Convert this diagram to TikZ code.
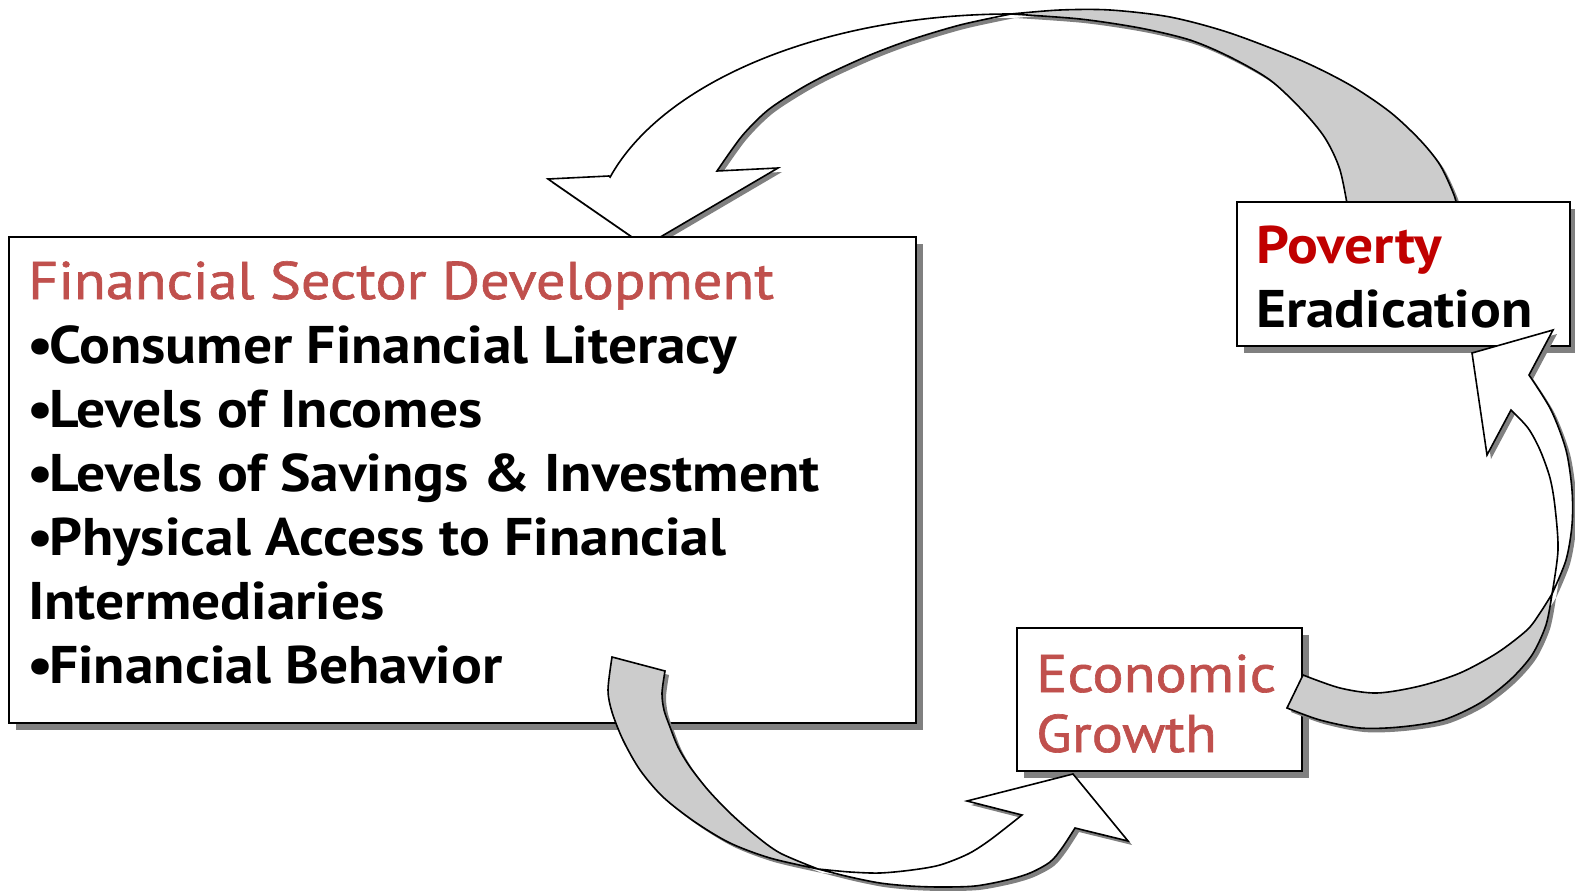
\documentclass[tikz,border=0pt]{standalone}
\usepackage{fontspec}
\setmainfont{PT Sans}[FakeStretch=1.085]
\newfontfamily\medfont{PT Sans}[FakeStretch=1.10, FakeBold=1.2]
\usetikzlibrary{shadows}
\definecolor{titlered}{HTML}{C0504D}
\definecolor{povred}{HTML}{C00000}
\definecolor{backgray}{HTML}{CCCCCC}
\definecolor{shadowgray}{HTML}{808080}

\tikzset{
  boxstyle/.style={draw=black, line width=2pt, fill=white, inner sep=0pt,
    general shadow={fill=shadowgray, shadow xshift=7pt, shadow yshift=-7pt}},
  txt/.style={inner sep=0pt, anchor=base west, font=\medfont\fontsize{53}{64}\selectfont},
  btxt/.style={inner sep=0pt, anchor=base west, font=\fontsize{53}{64}\selectfont\bfseries},
  band/.style={draw=black, line width=1.6pt, line join=miter, fill=white},
  backband/.style={draw=black, line width=1.6pt, line join=miter, fill=backgray},
  arrowshadow/.style={fill=shadowgray, shift={(4,4)}},
}
\newcommand\bul{•\kern-4pt}

% top arrow: Poverty -> Financial
\newcommand\topfront[1]{\path[#1] (609,176) -- (548,179) -- (645,246) -- (778,168) -- (717,171)
  -- plot[smooth] coordinates {(717,171) (742,136) (768,110) (800,89) (828,74) (870,55) (910,40) (960,25) (1011,14)}
  -- (1011,14) arc[start angle=270, end angle=196.9, x radius=419, y radius=230] -- cycle;}
\newcommand\topback[1]{\path[#1]
  plot[smooth] coordinates {(1011,14) (1080,19) (1140,28) (1190,40) (1230,57) (1270,80) (1302,110) (1325,138) (1340,170) (1349,215)}
  -- (1459,215)
  -- plot[smooth] coordinates {(1459,215) (1454,195) (1440,165) (1420,140) (1390,112) (1350,85) (1300,60) (1230,33) (1170,17) (1110,10) (1060,10) (1011,14)} -- cycle;}

% bottom arrow: Financial -> Economic
\newcommand\botback[1]{\path[#1] (612,657) -- (665,671)
  -- plot[smooth] coordinates {(665,671) (662,693) (664,710) (670,727) (678,747) (690,767) (708,790) (730,813) (755,835) (780,853) (818,869)}
  -- plot[smooth] coordinates {(818,869) (770,858) (730,843) (695,822) (663,797) (640,770) (623,740) (612,712) (608,690) (612,657)} -- cycle;}
\newcommand\botfront[1]{\path[#1]
  plot[smooth] coordinates {(818,869) (850,872) (880,873) (912,870) (940,865) (968,854) (990,840) (1022,815)}
  -- (967,801) -- (1073,774) -- (1128,841) -- (1075,828)
  -- plot[smooth] coordinates {(1075,828) (1062,848) (1050,862) (1030,873) (1007,880) (975,886) (940,887) (910,886) (880,883) (850,877) (818,869)} -- cycle;}

% right arrow: Economic -> Poverty
\newcommand\rightfront[1]{\path[#1] (1529,375) -- (1553,330) -- (1472,353) -- (1487,455) -- (1511,410)
  -- plot[smooth] coordinates {(1511,410) (1528,428) (1540,450) (1550,478) (1555,507) (1558,550) (1552,594)}
  -- plot[smooth] coordinates {(1552,594) (1566,560) (1572,525) (1572,490) (1566,450) (1551,410) (1529,375)} -- cycle;}
\newcommand\rightback[1]{\path[#1]
  plot[smooth] coordinates {(1552,594) (1540,613) (1527,630) (1497,653) (1460,673) (1420,686) (1377,693) (1340,688) (1303,675)}
  -- (1287,708)
  -- plot[smooth] coordinates {(1287,708) (1320,720) (1360,728) (1400,727) (1443,720) (1480,703) (1510,680) (1532,655) (1546,625) (1552,594)} -- cycle;}

\begin{document}
\begin{tikzpicture}[x=1pt,y=-1pt]
\useasboundingbox (0,0) rectangle (1575,891);

% top arrow (behind boxes)
\topback{arrowshadow}
\topfront{arrowshadow}
\topback{backband}
\topfront{band}

% boxes
\node[boxstyle, minimum width=907pt, minimum height=486pt] (fin) at (462.5,480) {};
\node[boxstyle, minimum width=333pt, minimum height=144pt] (pov) at (1403.5,274) {};
\node[boxstyle, minimum width=285pt, minimum height=143pt] (eco) at (1159.5,699.5) {};

% texts
\node[txt, text=titlered] (t0) at (28,299) {Financial Sector Development};
\node[btxt] (t1) at (27,363) {\bul Consumer Financial Literacy};
\node[btxt] (t2) at (27,427) {\bul Levels of Incomes};
\node[btxt] (t3) at (27,491) {\bul Levels of Savings \& Investment};
\node[btxt] (t4) at (27,555) {\bul Physical Access to Financial};
\node[btxt] (t5) at (28,619) {Intermediaries};
\node[btxt] (t6) at (27,683) {\bul Financial Behavior};

\node[btxt, text=povred] (p1) at (1256,263) {Poverty};
\node[btxt] (p2) at (1256,327) {Eradication};

\node[txt, text=titlered] (e1) at (1036,692) {Economic};
\node[txt, text=titlered] (e2) at (1036,752) {Growth};

% bottom arrow
\botback{arrowshadow}
\botfront{arrowshadow}
\botback{backband}
\botfront{band}

% right arrow
\rightback{arrowshadow}
\rightfront{arrowshadow}
\rightback{backband}
\rightfront{band}
\end{tikzpicture}
\end{document}
